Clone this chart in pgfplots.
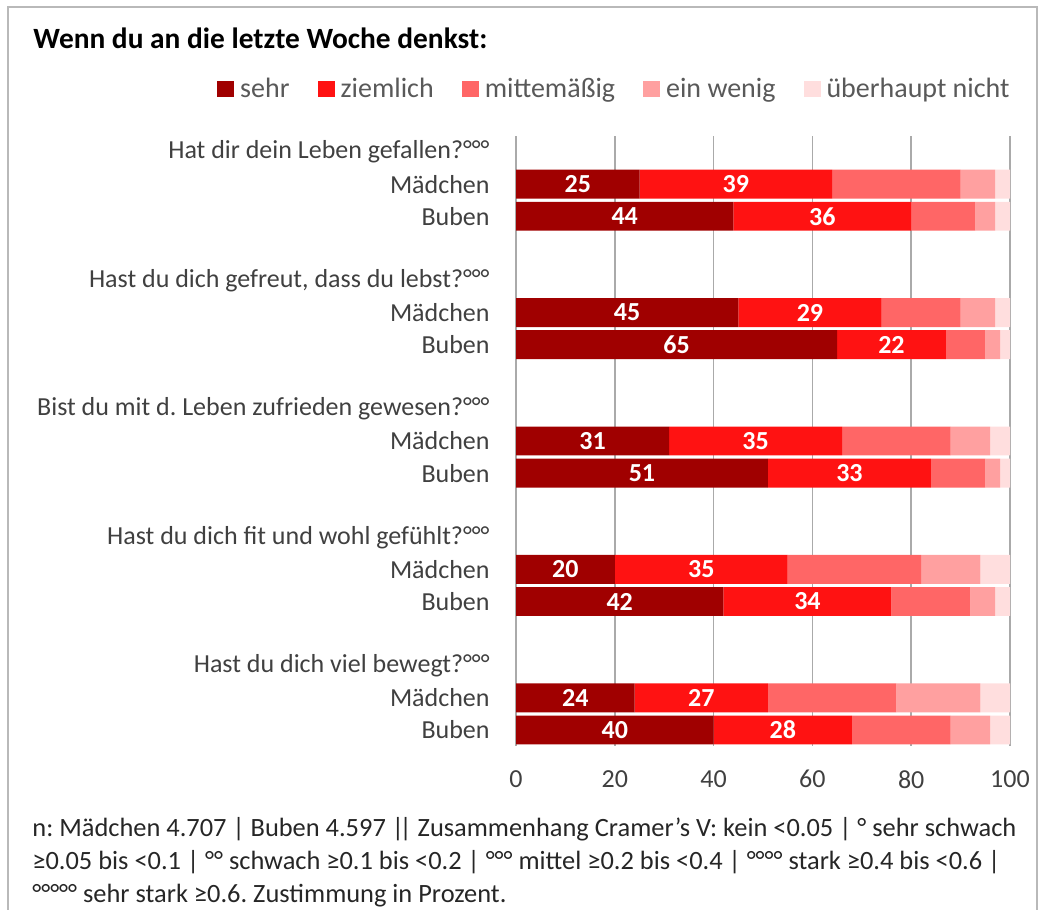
\documentclass[border=0pt]{standalone}
\usepackage{fontspec}
\setmainfont{Carlito}
\usepackage{pgfplots}
\usepackage{pgfplotstable}
\pgfplotsset{compat=1.18}
\frenchspacing

\definecolor{sehr}{RGB}{160,0,0}
\definecolor{ziemlich}{RGB}{255,18,18}
\definecolor{mittel}{RGB}{255,102,102}
\definecolor{wenig}{RGB}{255,160,160}
\definecolor{nicht}{RGB}{255,222,222}
\definecolor{txt}{RGB}{64,64,64}
\definecolor{gridc}{RGB}{170,170,170}

% rows: 0/4/8/12/16 = question, then Maedchen, Buben
\pgfplotstableread{
y  s1 s2 s3 s4 s5
1  25 39 26  7 3
2  44 36 13  4 3
5  45 29 16  7 3
6  65 22  8  3 2
9  31 35 22  8 4
10 51 33 11  3 2
13 20 35 27 12 6
14 42 34 16  5 3
17 24 27 26 17 6
18 40 28 20  8 4
}\datatab

\pgfplotsset{
  common/.style={
    at={(258pt,-68pt)}, anchor=north west,
    scale only axis, width=247pt, height=305pt,
    xmin=0, xmax=100, ymin=-0.5, ymax=18.5,
    y dir=reverse,
  }
}

\begin{document}
\begin{tikzpicture}
\useasboundingbox (0,0) rectangle (519.5pt,-455pt);

\begin{scope}[x=0.5pt,y=-0.5pt]
  \draw[gray!55, line width=0.6pt] (8,930) -- (8,7) -- (1037,7) -- (1037,930);
  \node[anchor=west, inner sep=0pt, font=\fontsize{14.7}{17}\selectfont\bfseries] at (33,38)
    {Wenn du an die letzte Woche denkst:};
  \node[anchor=north west, inner sep=0pt, align=left, text=black!85,
        font=\fontsize{13.2}{16.5}\selectfont] at (32,817)
    {n: Mädchen 4.707 | Buben 4.597 |\kern-2.2pt| Zusammenhang Cramer’s V: kein <0.05 | ° sehr schwach\\
     ≥0.05 bis <0.1 | °° schwach ≥0.1 bis <0.2 | °°° mittel ≥0.2 bis <0.4 | °°°° stark ≥0.4 bis <0.6 |\\
     °°°°° sehr stark ≥0.6. Zustimmung in Prozent.};
\end{scope}

\begin{axis}[common,
  xbar stacked, bar width=0.9,
  axis line style={draw=none},
  major tick length=0pt,
  xtick={0,20,40,60,80,100},
  xmajorgrids, grid style={gridc, line width=0.75pt},
  ytick={0,1,2,4,5,6,8,9,10,12,13,14,16,17,18},
  yticklabels={{Hat dir dein Leben gefallen?°°°},Mädchen,Buben,
               {Hast du dich gefreut, dass du lebst?°°°},Mädchen,Buben,
               {Bist du mit d. Leben zufrieden gewesen?°°°},Mädchen,Buben,
               {Hast du dich fit und wohl gefühlt?°°°},Mädchen,Buben,
               {Hast du dich viel bewegt?°°°},Mädchen,Buben},
  yticklabel style={anchor=east, inner sep=0pt, xshift=-13pt},
  xticklabel style={anchor=north, inner sep=0pt, yshift=-12pt},
  tick label style={font=\fontsize{13}{15}\selectfont, text=txt},
  /pgf/number format/assume math mode=true,
  legend columns=5,
  legend style={at={(1,1)}, anchor=east, yshift=23.5pt, draw=none, fill=none,
    font=\fontsize{14}{16}\selectfont, text=black!65, inner sep=0pt,
    nodes={inner sep=0pt},
    /tikz/every even column/.append style={column sep=14pt}},
  legend image code/.code={\fill[#1] (0pt,-4.2pt) rectangle (8.5pt,4.2pt); \path (11.5pt,0pt);},
]
\addplot[fill=sehr, draw=none] table[x=s1, y=y] {\datatab};
\addplot[fill=ziemlich, draw=none] table[x=s2, y=y] {\datatab};
\addplot[fill=mittel, draw=none] table[x=s3, y=y] {\datatab};
\addplot[fill=wenig, draw=none] table[x=s4, y=y] {\datatab};
\addplot[fill=nicht, draw=none] table[x=s5, y=y] {\datatab};
\legend{sehr, ziemlich, mittemäßig, ein wenig, überhaupt nicht}
\end{axis}

% value labels centred in the first two segments
\begin{axis}[common, hide axis,
  nodes near coords, point meta=explicit symbolic,
  every node near coord/.append style={anchor=center, text=white,
    font=\fontsize{13}{15}\selectfont\bfseries},
]
\addplot[draw=none, mark=none, only marks] table[x expr=\thisrow{s1}/2, y=y, meta=s1] {\datatab};
\addplot[draw=none, mark=none, only marks] table[x expr=\thisrow{s1}+\thisrow{s2}/2, y=y, meta=s2] {\datatab};
\end{axis}
\end{tikzpicture}
\end{document}
